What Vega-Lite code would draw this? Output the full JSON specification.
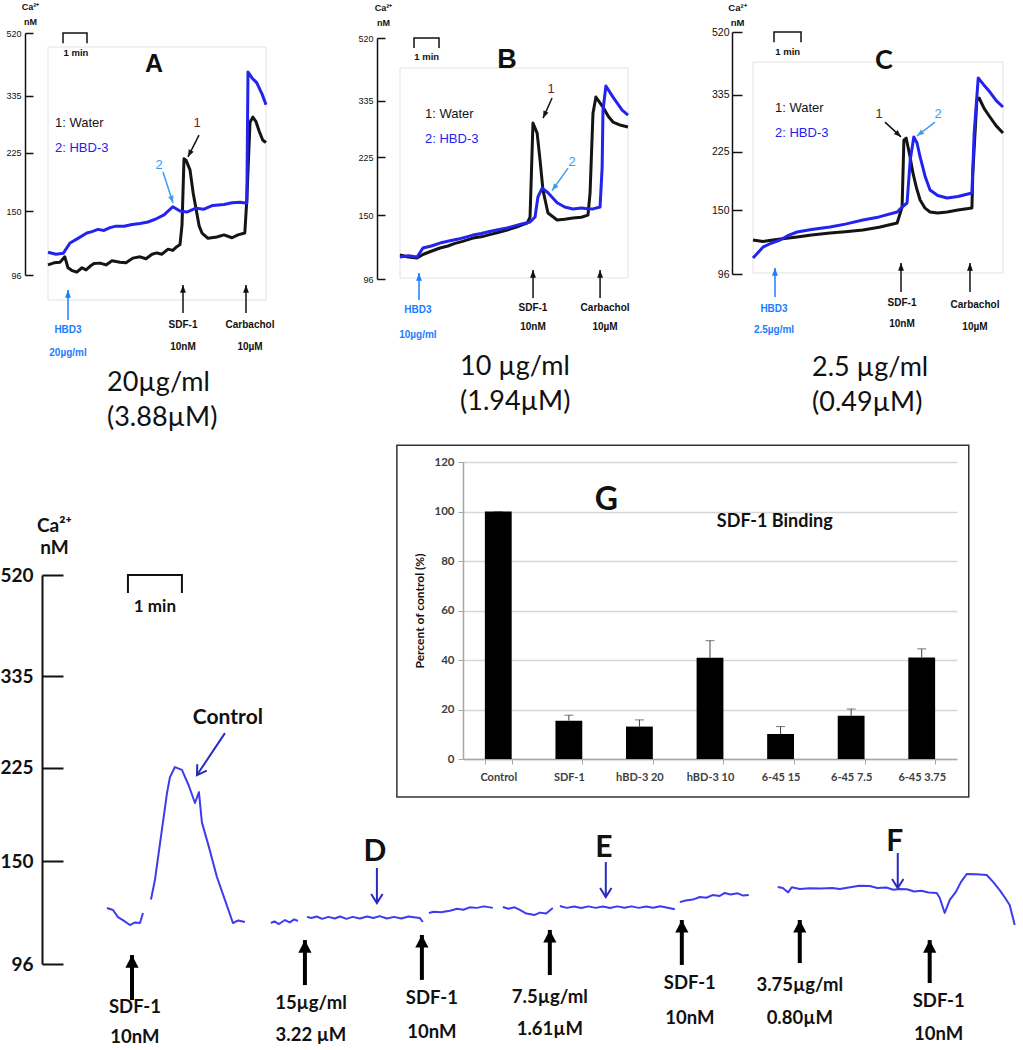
{
"$schema":"https://vega.github.io/schema/vega-lite/v6.json",
"width":1023,"height":1050,"autosize":{"type":"none"},"padding":0,"background":"white",
"config":{"view":{"stroke":null},"font":"Liberation Sans"},
"datasets":{
"traces":[
{"p":"A","k":"Water","g":"AW","t":0,"v":103},{"p":"A","k":"Water","g":"AW","t":15,"v":104.5},{"p":"A","k":"Water","g":"AW","t":30,"v":105},{"p":"A","k":"Water","g":"AW","t":42,"v":109},{"p":"A","k":"Water","g":"AW","t":50,"v":101},{"p":"A","k":"Water","g":"AW","t":60,"v":99},{"p":"A","k":"Water","g":"AW","t":72,"v":98},{"p":"A","k":"Water","g":"AW","t":85,"v":101},{"p":"A","k":"Water","g":"AW","t":95,"v":99.5},{"p":"A","k":"Water","g":"AW","t":105,"v":102},{"p":"A","k":"Water","g":"AW","t":115,"v":104},{"p":"A","k":"Water","g":"AW","t":130,"v":104.3},{"p":"A","k":"Water","g":"AW","t":145,"v":103},{"p":"A","k":"Water","g":"AW","t":160,"v":106},{"p":"A","k":"Water","g":"AW","t":180,"v":105},{"p":"A","k":"Water","g":"AW","t":195,"v":104.5},{"p":"A","k":"Water","g":"AW","t":212,"v":108},{"p":"A","k":"Water","g":"AW","t":230,"v":109},{"p":"A","k":"Water","g":"AW","t":245,"v":107.5},{"p":"A","k":"Water","g":"AW","t":260,"v":111},{"p":"A","k":"Water","g":"AW","t":272,"v":112},{"p":"A","k":"Water","g":"AW","t":285,"v":111},{"p":"A","k":"Water","g":"AW","t":300,"v":115},{"p":"A","k":"Water","g":"AW","t":312,"v":114},{"p":"A","k":"Water","g":"AW","t":322,"v":117},{"p":"A","k":"Water","g":"AW","t":330,"v":118.7},{"p":"A","k":"Water","g":"AW","t":335,"v":136},{"p":"A","k":"Water","g":"AW","t":340,"v":216},{"p":"A","k":"Water","g":"AW","t":345,"v":214},{"p":"A","k":"Water","g":"AW","t":355,"v":200},{"p":"A","k":"Water","g":"AW","t":363,"v":170},{"p":"A","k":"Water","g":"AW","t":372,"v":148},{"p":"A","k":"Water","g":"AW","t":378,"v":135},{"p":"A","k":"Water","g":"AW","t":385,"v":128.7},{"p":"A","k":"Water","g":"AW","t":400,"v":124},{"p":"A","k":"Water","g":"AW","t":422,"v":125.2},{"p":"A","k":"Water","g":"AW","t":440,"v":127},{"p":"A","k":"Water","g":"AW","t":460,"v":124.5},{"p":"A","k":"Water","g":"AW","t":475,"v":127},{"p":"A","k":"Water","g":"AW","t":492,"v":128.7},{"p":"A","k":"Water","g":"AW","t":497,"v":162},{"p":"A","k":"Water","g":"AW","t":505,"v":279},{"p":"A","k":"Water","g":"AW","t":512,"v":289},{"p":"A","k":"Water","g":"AW","t":520,"v":280},{"p":"A","k":"Water","g":"AW","t":528,"v":262},{"p":"A","k":"Water","g":"AW","t":537,"v":246},{"p":"A","k":"Water","g":"AW","t":545,"v":242},
{"p":"A","k":"HBD-3","g":"AH","t":0,"v":112.5},{"p":"A","k":"HBD-3","g":"AH","t":20,"v":111},{"p":"A","k":"HBD-3","g":"AH","t":38,"v":111.7},{"p":"A","k":"HBD-3","g":"AH","t":55,"v":120},{"p":"A","k":"HBD-3","g":"AH","t":75,"v":124},{"p":"A","k":"HBD-3","g":"AH","t":97,"v":128.7},{"p":"A","k":"HBD-3","g":"AH","t":110,"v":130},{"p":"A","k":"HBD-3","g":"AH","t":125,"v":132},{"p":"A","k":"HBD-3","g":"AH","t":140,"v":131},{"p":"A","k":"HBD-3","g":"AH","t":155,"v":133.6},{"p":"A","k":"HBD-3","g":"AH","t":170,"v":135},{"p":"A","k":"HBD-3","g":"AH","t":190,"v":135},{"p":"A","k":"HBD-3","g":"AH","t":210,"v":136.5},{"p":"A","k":"HBD-3","g":"AH","t":230,"v":137.5},{"p":"A","k":"HBD-3","g":"AH","t":250,"v":139},{"p":"A","k":"HBD-3","g":"AH","t":272,"v":142.4},{"p":"A","k":"HBD-3","g":"AH","t":290,"v":146},{"p":"A","k":"HBD-3","g":"AH","t":312,"v":154.6},{"p":"A","k":"HBD-3","g":"AH","t":330,"v":150},{"p":"A","k":"HBD-3","g":"AH","t":347,"v":149},{"p":"A","k":"HBD-3","g":"AH","t":370,"v":153},{"p":"A","k":"HBD-3","g":"AH","t":390,"v":152},{"p":"A","k":"HBD-3","g":"AH","t":412,"v":156},{"p":"A","k":"HBD-3","g":"AH","t":440,"v":157},{"p":"A","k":"HBD-3","g":"AH","t":460,"v":159},{"p":"A","k":"HBD-3","g":"AH","t":480,"v":159.5},{"p":"A","k":"HBD-3","g":"AH","t":497,"v":158.4},{"p":"A","k":"HBD-3","g":"AH","t":500,"v":396},{"p":"A","k":"HBD-3","g":"AH","t":510,"v":380},{"p":"A","k":"HBD-3","g":"AH","t":522,"v":367},{"p":"A","k":"HBD-3","g":"AH","t":535,"v":340},{"p":"A","k":"HBD-3","g":"AH","t":545,"v":315},
{"p":"B","k":"Water","g":"BW","t":0,"v":113.6},{"p":"B","k":"Water","g":"BW","t":20,"v":112},{"p":"B","k":"Water","g":"BW","t":41,"v":111.2},{"p":"B","k":"Water","g":"BW","t":55,"v":114},{"p":"B","k":"Water","g":"BW","t":70,"v":116},{"p":"B","k":"Water","g":"BW","t":96,"v":119.3},{"p":"B","k":"Water","g":"BW","t":115,"v":121},{"p":"B","k":"Water","g":"BW","t":130,"v":123},{"p":"B","k":"Water","g":"BW","t":150,"v":125},{"p":"B","k":"Water","g":"BW","t":175,"v":127.9},{"p":"B","k":"Water","g":"BW","t":195,"v":129},{"p":"B","k":"Water","g":"BW","t":215,"v":131},{"p":"B","k":"Water","g":"BW","t":235,"v":133},{"p":"B","k":"Water","g":"BW","t":257,"v":135.3},{"p":"B","k":"Water","g":"BW","t":285,"v":139},{"p":"B","k":"Water","g":"BW","t":305,"v":142.1},{"p":"B","k":"Water","g":"BW","t":312,"v":148.2},{"p":"B","k":"Water","g":"BW","t":319,"v":286.4},{"p":"B","k":"Water","g":"BW","t":329,"v":267},{"p":"B","k":"Water","g":"BW","t":336,"v":221},{"p":"B","k":"Water","g":"BW","t":343,"v":179},{"p":"B","k":"Water","g":"BW","t":355,"v":152.5},{"p":"B","k":"Water","g":"BW","t":377,"v":145.2},{"p":"B","k":"Water","g":"BW","t":395,"v":146},{"p":"B","k":"Water","g":"BW","t":415,"v":147.2},{"p":"B","k":"Water","g":"BW","t":435,"v":148},{"p":"B","k":"Water","g":"BW","t":451,"v":150.3},{"p":"B","k":"Water","g":"BW","t":456,"v":175.7},{"p":"B","k":"Water","g":"BW","t":463,"v":307},{"p":"B","k":"Water","g":"BW","t":470,"v":343.7},{"p":"B","k":"Water","g":"BW","t":487,"v":320.3},{"p":"B","k":"Water","g":"BW","t":500,"v":300},{"p":"B","k":"Water","g":"BW","t":511,"v":288.5},{"p":"B","k":"Water","g":"BW","t":530,"v":282},{"p":"B","k":"Water","g":"BW","t":547,"v":278.5},
{"p":"B","k":"HBD-3","g":"BH","t":0,"v":112},{"p":"B","k":"HBD-3","g":"BH","t":20,"v":113},{"p":"B","k":"HBD-3","g":"BH","t":41,"v":112},{"p":"B","k":"HBD-3","g":"BH","t":55,"v":119.3},{"p":"B","k":"HBD-3","g":"BH","t":75,"v":121},{"p":"B","k":"HBD-3","g":"BH","t":96,"v":123.5},{"p":"B","k":"HBD-3","g":"BH","t":120,"v":125.5},{"p":"B","k":"HBD-3","g":"BH","t":140,"v":127},{"p":"B","k":"HBD-3","g":"BH","t":160,"v":129},{"p":"B","k":"HBD-3","g":"BH","t":175,"v":130.6},{"p":"B","k":"HBD-3","g":"BH","t":195,"v":132},{"p":"B","k":"HBD-3","g":"BH","t":215,"v":134},{"p":"B","k":"HBD-3","g":"BH","t":235,"v":135.5},{"p":"B","k":"HBD-3","g":"BH","t":257,"v":137.2},{"p":"B","k":"HBD-3","g":"BH","t":290,"v":141},{"p":"B","k":"HBD-3","g":"BH","t":312,"v":143.1},{"p":"B","k":"HBD-3","g":"BH","t":324,"v":148.2},{"p":"B","k":"HBD-3","g":"BH","t":331,"v":170.8},{"p":"B","k":"HBD-3","g":"BH","t":341,"v":181.5},{"p":"B","k":"HBD-3","g":"BH","t":355,"v":175.7},{"p":"B","k":"HBD-3","g":"BH","t":377,"v":163.8},{"p":"B","k":"HBD-3","g":"BH","t":395,"v":159},{"p":"B","k":"HBD-3","g":"BH","t":415,"v":156.9},{"p":"B","k":"HBD-3","g":"BH","t":435,"v":158},{"p":"B","k":"HBD-3","g":"BH","t":450,"v":157},{"p":"B","k":"HBD-3","g":"BH","t":463,"v":156.9},{"p":"B","k":"HBD-3","g":"BH","t":480,"v":159.1},{"p":"B","k":"HBD-3","g":"BH","t":485,"v":210.3},{"p":"B","k":"HBD-3","g":"BH","t":487,"v":313.7},{"p":"B","k":"HBD-3","g":"BH","t":494,"v":371.3},{"p":"B","k":"HBD-3","g":"BH","t":511,"v":343.7},{"p":"B","k":"HBD-3","g":"BH","t":533,"v":313.7},{"p":"B","k":"HBD-3","g":"BH","t":547,"v":303},
{"p":"C","k":"Water","g":"CW","t":0,"v":121.7},{"p":"C","k":"Water","g":"CW","t":22,"v":120.5},{"p":"C","k":"Water","g":"CW","t":44,"v":121.7},{"p":"C","k":"Water","g":"CW","t":70,"v":123},{"p":"C","k":"Water","g":"CW","t":98,"v":124.3},{"p":"C","k":"Water","g":"CW","t":130,"v":126},{"p":"C","k":"Water","g":"CW","t":171,"v":127.8},{"p":"C","k":"Water","g":"CW","t":205,"v":129},{"p":"C","k":"Water","g":"CW","t":244,"v":130.5},{"p":"C","k":"Water","g":"CW","t":280,"v":133},{"p":"C","k":"Water","g":"CW","t":320,"v":137},{"p":"C","k":"Water","g":"CW","t":331,"v":153.3},{"p":"C","k":"Water","g":"CW","t":335,"v":244.6},{"p":"C","k":"Water","g":"CW","t":340,"v":248},{"p":"C","k":"Water","g":"CW","t":348,"v":220},{"p":"C","k":"Water","g":"CW","t":355,"v":194.4},{"p":"C","k":"Water","g":"CW","t":363,"v":175},{"p":"C","k":"Water","g":"CW","t":371,"v":160.9},{"p":"C","k":"Water","g":"CW","t":382,"v":152},{"p":"C","k":"Water","g":"CW","t":393,"v":148},{"p":"C","k":"Water","g":"CW","t":410,"v":147},{"p":"C","k":"Water","g":"CW","t":431,"v":148},{"p":"C","k":"Water","g":"CW","t":455,"v":150},{"p":"C","k":"Water","g":"CW","t":486,"v":152.2},{"p":"C","k":"Water","g":"CW","t":488,"v":194.4},{"p":"C","k":"Water","g":"CW","t":497,"v":323.4},{"p":"C","k":"Water","g":"CW","t":502,"v":328},{"p":"C","k":"Water","g":"CW","t":513,"v":305},{"p":"C","k":"Water","g":"CW","t":526,"v":287.3},{"p":"C","k":"Water","g":"CW","t":540,"v":270},{"p":"C","k":"Water","g":"CW","t":555,"v":256.9},
{"p":"C","k":"HBD-3","g":"CH","t":0,"v":107.3},{"p":"C","k":"HBD-3","g":"CH","t":22,"v":115.8},{"p":"C","k":"HBD-3","g":"CH","t":40,"v":119},{"p":"C","k":"HBD-3","g":"CH","t":60,"v":121.7},{"p":"C","k":"HBD-3","g":"CH","t":80,"v":126},{"p":"C","k":"HBD-3","g":"CH","t":98,"v":128.7},{"p":"C","k":"HBD-3","g":"CH","t":130,"v":131},{"p":"C","k":"HBD-3","g":"CH","t":171,"v":133.3},{"p":"C","k":"HBD-3","g":"CH","t":205,"v":136},{"p":"C","k":"HBD-3","g":"CH","t":244,"v":139.9},{"p":"C","k":"HBD-3","g":"CH","t":280,"v":143},{"p":"C","k":"HBD-3","g":"CH","t":320,"v":148},{"p":"C","k":"HBD-3","g":"CH","t":331,"v":153.3},{"p":"C","k":"HBD-3","g":"CH","t":342,"v":157.6},{"p":"C","k":"HBD-3","g":"CH","t":349,"v":212.7},{"p":"C","k":"HBD-3","g":"CH","t":357,"v":249.8},{"p":"C","k":"HBD-3","g":"CH","t":364,"v":240},{"p":"C","k":"HBD-3","g":"CH","t":371,"v":217.3},{"p":"C","k":"HBD-3","g":"CH","t":382,"v":190},{"p":"C","k":"HBD-3","g":"CH","t":393,"v":172.5},{"p":"C","k":"HBD-3","g":"CH","t":410,"v":166},{"p":"C","k":"HBD-3","g":"CH","t":431,"v":163.2},{"p":"C","k":"HBD-3","g":"CH","t":455,"v":165},{"p":"C","k":"HBD-3","g":"CH","t":486,"v":169},{"p":"C","k":"HBD-3","g":"CH","t":491,"v":256.9},{"p":"C","k":"HBD-3","g":"CH","t":500,"v":377},{"p":"C","k":"HBD-3","g":"CH","t":512,"v":360},{"p":"C","k":"HBD-3","g":"CH","t":526,"v":342},{"p":"C","k":"HBD-3","g":"CH","t":540,"v":322},{"p":"C","k":"HBD-3","g":"CH","t":555,"v":308},
{"p":"Bot","k":"recording","g":"C1","t":118.9,"v":122.4},{"p":"Bot","k":"recording","g":"C1","t":125.6,"v":121.4},{"p":"Bot","k":"recording","g":"C1","t":131.1,"v":117.7},{"p":"Bot","k":"recording","g":"C1","t":137,"v":116},{"p":"Bot","k":"recording","g":"C1","t":144.4,"v":113.7},{"p":"Bot","k":"recording","g":"C1","t":150,"v":115},{"p":"Bot","k":"recording","g":"C1","t":155.6,"v":114.7},{"p":"Bot","k":"recording","g":"C1","t":158.9,"v":119.8},
{"p":"Bot","k":"recording","g":"C2","t":167.8,"v":127},{"p":"Bot","k":"recording","g":"C2","t":172.2,"v":138.3},{"p":"Bot","k":"recording","g":"C2","t":185.6,"v":201.6},{"p":"Bot","k":"recording","g":"C2","t":188.9,"v":216.2},{"p":"Bot","k":"recording","g":"C2","t":194.4,"v":225.8},{"p":"Bot","k":"recording","g":"C2","t":202.2,"v":223},{"p":"Bot","k":"recording","g":"C2","t":210,"v":208},{"p":"Bot","k":"recording","g":"C2","t":216.7,"v":193.2},{"p":"Bot","k":"recording","g":"C2","t":221.1,"v":202.5},{"p":"Bot","k":"recording","g":"C2","t":224.4,"v":177.6},{"p":"Bot","k":"recording","g":"C2","t":232,"v":160},{"p":"Bot","k":"recording","g":"C2","t":241.1,"v":140.1},{"p":"Bot","k":"recording","g":"C2","t":250,"v":126.8},{"p":"Bot","k":"recording","g":"C2","t":258.9,"v":114.7},{"p":"Bot","k":"recording","g":"C2","t":265,"v":116},{"p":"Bot","k":"recording","g":"C2","t":272.2,"v":115.2},
{"p":"Bot","k":"recording","g":"D1","t":301.1,"v":114.7},{"p":"Bot","k":"recording","g":"D1","t":305,"v":115.5},{"p":"Bot","k":"recording","g":"D1","t":310,"v":114.2},{"p":"Bot","k":"recording","g":"D1","t":316.7,"v":116.2},{"p":"Bot","k":"recording","g":"D1","t":322,"v":115},{"p":"Bot","k":"recording","g":"D1","t":327,"v":116.5},{"p":"Bot","k":"recording","g":"D1","t":331.1,"v":115.7},
{"p":"Bot","k":"recording","g":"D2","t":341.1,"v":117.8},{"p":"Bot","k":"recording","g":"D2","t":346,"v":117.2},{"p":"Bot","k":"recording","g":"D2","t":352,"v":118},{"p":"Bot","k":"recording","g":"D2","t":358,"v":116.8},{"p":"Bot","k":"recording","g":"D2","t":365,"v":117.8},{"p":"Bot","k":"recording","g":"D2","t":372,"v":117},{"p":"Bot","k":"recording","g":"D2","t":378,"v":118},{"p":"Bot","k":"recording","g":"D2","t":385,"v":116.8},{"p":"Bot","k":"recording","g":"D2","t":392,"v":117.8},{"p":"Bot","k":"recording","g":"D2","t":400,"v":117},{"p":"Bot","k":"recording","g":"D2","t":408,"v":118},{"p":"Bot","k":"recording","g":"D2","t":415,"v":117.2},{"p":"Bot","k":"recording","g":"D2","t":422,"v":118.2},{"p":"Bot","k":"recording","g":"D2","t":430,"v":117},{"p":"Bot","k":"recording","g":"D2","t":438,"v":117.8},{"p":"Bot","k":"recording","g":"D2","t":446,"v":117},{"p":"Bot","k":"recording","g":"D2","t":454,"v":118},{"p":"Bot","k":"recording","g":"D2","t":462,"v":117.5},{"p":"Bot","k":"recording","g":"D2","t":466.7,"v":117.2},{"p":"Bot","k":"recording","g":"D2","t":470,"v":115.2},
{"p":"Bot","k":"recording","g":"D3","t":476.7,"v":119.8},{"p":"Bot","k":"recording","g":"D3","t":482,"v":120.5},{"p":"Bot","k":"recording","g":"D3","t":490,"v":120.2},{"p":"Bot","k":"recording","g":"D3","t":500,"v":121},{"p":"Bot","k":"recording","g":"D3","t":508,"v":122},{"p":"Bot","k":"recording","g":"D3","t":515,"v":121.5},{"p":"Bot","k":"recording","g":"D3","t":522,"v":122.8},{"p":"Bot","k":"recording","g":"D3","t":530,"v":122.5},{"p":"Bot","k":"recording","g":"D3","t":538,"v":123.3},{"p":"Bot","k":"recording","g":"D3","t":547.8,"v":122.5},
{"p":"Bot","k":"recording","g":"E1","t":558.9,"v":123},{"p":"Bot","k":"recording","g":"E1","t":565,"v":122},{"p":"Bot","k":"recording","g":"E1","t":572,"v":122.8},{"p":"Bot","k":"recording","g":"E1","t":577.8,"v":121.4},{"p":"Bot","k":"recording","g":"E1","t":585,"v":119.5},{"p":"Bot","k":"recording","g":"E1","t":594.4,"v":118.8},{"p":"Bot","k":"recording","g":"E1","t":600,"v":120},{"p":"Bot","k":"recording","g":"E1","t":607,"v":119.5},{"p":"Bot","k":"recording","g":"E1","t":614.4,"v":122.4},
{"p":"Bot","k":"recording","g":"E2","t":622.2,"v":123.5},{"p":"Bot","k":"recording","g":"E2","t":630,"v":122.5},{"p":"Bot","k":"recording","g":"E2","t":638,"v":123.2},{"p":"Bot","k":"recording","g":"E2","t":646,"v":122.4},{"p":"Bot","k":"recording","g":"E2","t":654,"v":123.3},{"p":"Bot","k":"recording","g":"E2","t":662,"v":122.5},{"p":"Bot","k":"recording","g":"E2","t":670,"v":123.2},{"p":"Bot","k":"recording","g":"E2","t":678,"v":122.4},{"p":"Bot","k":"recording","g":"E2","t":686,"v":123.3},{"p":"Bot","k":"recording","g":"E2","t":694,"v":122.6},{"p":"Bot","k":"recording","g":"E2","t":702,"v":123.3},{"p":"Bot","k":"recording","g":"E2","t":710,"v":122.5},{"p":"Bot","k":"recording","g":"E2","t":718,"v":123.2},{"p":"Bot","k":"recording","g":"E2","t":726,"v":122.6},{"p":"Bot","k":"recording","g":"E2","t":734,"v":123.4},{"p":"Bot","k":"recording","g":"E2","t":742,"v":122.6},{"p":"Bot","k":"recording","g":"E2","t":750,"v":121.8},
{"p":"Bot","k":"recording","g":"E3","t":755.6,"v":125.6},{"p":"Bot","k":"recording","g":"E3","t":762,"v":126.5},{"p":"Bot","k":"recording","g":"E3","t":770,"v":127},{"p":"Bot","k":"recording","g":"E3","t":777.8,"v":128.4},{"p":"Bot","k":"recording","g":"E3","t":785,"v":128},{"p":"Bot","k":"recording","g":"E3","t":792,"v":129.5},{"p":"Bot","k":"recording","g":"E3","t":800,"v":129},{"p":"Bot","k":"recording","g":"E3","t":805.6,"v":130.7},{"p":"Bot","k":"recording","g":"E3","t":812,"v":129.8},{"p":"Bot","k":"recording","g":"E3","t":820,"v":130.5},{"p":"Bot","k":"recording","g":"E3","t":826,"v":129.2},{"p":"Bot","k":"recording","g":"E3","t":832.2,"v":129.5},
{"p":"Bot","k":"recording","g":"F","t":864.4,"v":134.1},{"p":"Bot","k":"recording","g":"F","t":870,"v":133.5},{"p":"Bot","k":"recording","g":"F","t":876,"v":131},{"p":"Bot","k":"recording","g":"F","t":880,"v":134},{"p":"Bot","k":"recording","g":"F","t":888.9,"v":133},{"p":"Bot","k":"recording","g":"F","t":900,"v":133.4},{"p":"Bot","k":"recording","g":"F","t":912,"v":133.2},{"p":"Bot","k":"recording","g":"F","t":925,"v":133.5},{"p":"Bot","k":"recording","g":"F","t":933.3,"v":133},{"p":"Bot","k":"recording","g":"F","t":945,"v":134},{"p":"Bot","k":"recording","g":"F","t":955,"v":134.8},{"p":"Bot","k":"recording","g":"F","t":966.7,"v":134.7},{"p":"Bot","k":"recording","g":"F","t":975,"v":133.5},{"p":"Bot","k":"recording","g":"F","t":985,"v":133.8},{"p":"Bot","k":"recording","g":"F","t":993,"v":132.5},{"p":"Bot","k":"recording","g":"F","t":1000,"v":133},{"p":"Bot","k":"recording","g":"F","t":1008,"v":132.8},{"p":"Bot","k":"recording","g":"F","t":1016,"v":131.5},{"p":"Bot","k":"recording","g":"F","t":1024,"v":132},{"p":"Bot","k":"recording","g":"F","t":1032,"v":131},{"p":"Bot","k":"recording","g":"F","t":1041.1,"v":130.7},{"p":"Bot","k":"recording","g":"F","t":1044.4,"v":128},{"p":"Bot","k":"recording","g":"F","t":1050,"v":119.8},{"p":"Bot","k":"recording","g":"F","t":1055.6,"v":126.8},{"p":"Bot","k":"recording","g":"F","t":1062,"v":131},{"p":"Bot","k":"recording","g":"F","t":1068,"v":137},{"p":"Bot","k":"recording","g":"F","t":1074.4,"v":141.9},{"p":"Bot","k":"recording","g":"F","t":1085,"v":141.8},{"p":"Bot","k":"recording","g":"F","t":1096.7,"v":141.3},{"p":"Bot","k":"recording","g":"F","t":1104,"v":137},{"p":"Bot","k":"recording","g":"F","t":1111.1,"v":132.3},{"p":"Bot","k":"recording","g":"F","t":1117,"v":128},{"p":"Bot","k":"recording","g":"F","t":1122.2,"v":124},{"p":"Bot","k":"recording","g":"F","t":1127.8,"v":113.7}
],
"frames":[
{"p":"A","k":"frame","t":0,"t2":545,"v":80.6,"v2":471.6},
{"p":"B","k":"frame","t":0,"t2":547,"v":96.7,"v2":421.3},
{"p":"C","k":"frame","t":0,"t2":555,"v":96.7,"v2":421.6},
{"p":"Bot","k":"box","t":441.1,"t2":1076.7,"v":198.2,"v2":914}
],
"brackets":[
{"p":"A","k":"scale","o":0,"t":37.5,"v":484.5},{"p":"A","k":"scale","o":1,"t":37.5,"v":520},{"p":"A","k":"scale","o":2,"t":97.5,"v":520},{"p":"A","k":"scale","o":3,"t":97.5,"v":484.5},
{"p":"B","k":"scale","o":0,"t":33.6,"v":484.4},{"p":"B","k":"scale","o":1,"t":33.6,"v":520},{"p":"B","k":"scale","o":2,"t":93.6,"v":520},{"p":"B","k":"scale","o":3,"t":93.6,"v":484.4},
{"p":"C","k":"scale","o":0,"t":46.6,"v":484.5},{"p":"C","k":"scale","o":1,"t":46.6,"v":520},{"p":"C","k":"scale","o":2,"t":106.6,"v":520},{"p":"C","k":"scale","o":3,"t":106.6,"v":484.5},
{"p":"Bot","k":"scale","o":0,"t":142.2,"v":481},{"p":"Bot","k":"scale","o":1,"t":142.2,"v":520},{"p":"Bot","k":"scale","o":2,"t":202.2,"v":520},{"p":"Bot","k":"scale","o":3,"t":202.2,"v":481}
],
"arrows":[
{"p":"A","id":"up","k":"HBD3 added","t":50,"v":86.5,"t2":50,"v2":70.1},
{"p":"A","id":"up","k":"agonist","t":337.5,"v":89.5,"t2":337.5,"v2":73.6},
{"p":"A","id":"up","k":"agonist","t":495,"v":89.5,"t2":495,"v2":73.6},
{"p":"A","id":"p1","k":"Water","t":350,"v":218.9,"t2":377.5,"v2":255},
{"p":"A","id":"p2","k":"pointer 2","t":312.5,"v":158.7,"t2":287.5,"v2":197},
{"p":"B","id":"up","k":"HBD3 added","t":45.6,"v":100.1,"t2":45.6,"v2":82.9},
{"p":"B","id":"up","k":"agonist","t":319.2,"v":102.2,"t2":319.2,"v2":84},
{"p":"B","id":"up","k":"agonist","t":480,"v":102.2,"t2":480,"v2":84},
{"p":"B","id":"p1","k":"Water","t":343.2,"v":296.6,"t2":364.8,"v2":341.3},
{"p":"B","id":"p2","k":"pointer 2","t":364.8,"v":178.4,"t2":403.2,"v2":208.9},
{"p":"C","id":"up","k":"HBD3 added","t":48.8,"v":100.1,"t2":48.8,"v2":81.8},
{"p":"C","id":"up","k":"agonist","t":328.6,"v":103.7,"t2":328.6,"v2":84.7},
{"p":"C","id":"up","k":"agonist","t":481.7,"v":103.7,"t2":481.7,"v2":84.7},
{"p":"C","id":"p1","k":"Water","t":328.6,"v":250,"t2":293,"v2":277.2},
{"p":"C","id":"p2","k":"pointer 2","t":364,"v":251.6,"t2":404,"v2":277.2},
{"p":"Bot","id":"up","k":"stimulus","t":146.7,"v":99.8,"t2":146.7,"v2":82.1},
{"p":"Bot","id":"up","k":"stimulus","t":338.9,"v":106.5,"t2":338.9,"v2":87.6},
{"p":"Bot","id":"up","k":"stimulus","t":468.9,"v":108.9,"t2":468.9,"v2":89.6},
{"p":"Bot","id":"up","k":"stimulus","t":611.1,"v":111.3,"t2":611.1,"v2":91.5},
{"p":"Bot","id":"up","k":"stimulus","t":757.8,"v":116.2,"t2":757.8,"v2":95.6},
{"p":"Bot","id":"up","k":"stimulus","t":888.9,"v":116.2,"t2":888.9,"v2":96.4},
{"p":"Bot","id":"up","k":"stimulus","t":1033.3,"v":106.5,"t2":1033.3,"v2":88.4},
{"p":"Bot","id":"dn","k":"marker","t":418.9,"v":125.1,"t2":418.9,"v2":145.7},
{"p":"Bot","id":"dn","k":"marker","t":673.3,"v":128.4,"t2":673.3,"v2":149.5},
{"p":"Bot","id":"dn","k":"marker","t":997.8,"v":133.5,"t2":997.8,"v2":155.5},
{"p":"Bot","id":"ctrl","k":"marker","t":218.9,"v":218.1,"t2":250,"v2":261.7}
],
"labels":[
{"p":"A","r":"letter","k":"note","t":265,"v":418.6,"text":"A"},
{"p":"A","r":"min","k":"note","t":70,"v":452,"text":"1 min"},
{"p":"A","r":"legend","k":"Water","t":17.5,"v":277.2,"text":"1: Water"},
{"p":"A","r":"legend","k":"HBD-3","t":17.5,"v":233,"text":"2: HBD-3"},
{"p":"A","r":"num","k":"pointer 1","t":372.5,"v":277.2,"text":"1"},
{"p":"A","r":"num","k":"pointer 2","t":277.5,"v":206.9,"text":"2"},
{"p":"A","r":"stim","k":"HBD3 added","t":50,"v":65.4,"text":"HBD3"},
{"p":"A","r":"stim","k":"HBD3 added","t":50,"v":55.7,"text":"20µg/ml"},
{"p":"A","r":"stim","k":"agonist","t":337.5,"v":67.7,"text":"SDF-1"},
{"p":"A","r":"stim","k":"agonist","t":337.5,"v":58.1,"text":"10nM"},
{"p":"A","r":"stim","k":"agonist","t":505,"v":67.7,"text":"Carbachol"},
{"p":"A","r":"stim","k":"agonist","t":505,"v":58.1,"text":"10µM"},
{"p":"A","r":"cap","k":"note","t":147.5,"v":45.2,"text":"20µg/ml"},
{"p":"A","r":"cap","k":"note","t":147.5,"v":35.4,"text":"(3.88µM)"},
{"p":"B","r":"letter","k":"note","t":256.8,"v":445,"text":"B"},
{"p":"B","r":"min","k":"note","t":64,"v":455,"text":"1 min"},
{"p":"B","r":"legend","k":"Water","t":60,"v":305,"text":"1: Water"},
{"p":"B","r":"legend","k":"HBD-3","t":60,"v":256,"text":"2: HBD-3"},
{"p":"B","r":"num","k":"pointer 1","t":362.4,"v":363.5,"text":"1"},
{"p":"B","r":"num","k":"pointer 2","t":412.8,"v":218,"text":"2"},
{"p":"B","r":"stim","k":"HBD3 added","t":43,"v":77.3,"text":"HBD3"},
{"p":"B","r":"stim","k":"HBD3 added","t":43,"v":64.9,"text":"10µg/ml"},
{"p":"B","r":"stim","k":"agonist","t":319,"v":78.3,"text":"SDF-1"},
{"p":"B","r":"stim","k":"agonist","t":319,"v":68.6,"text":"10nM"},
{"p":"B","r":"stim","k":"agonist","t":492,"v":78.3,"text":"Carbachol"},
{"p":"B","r":"stim","k":"agonist","t":492,"v":68.6,"text":"10µM"},
{"p":"B","r":"cap","k":"note","t":144,"v":51.8,"text":"10 µg/ml"},
{"p":"B","r":"cap","k":"note","t":144,"v":40.5,"text":"(1.94µM)"},
{"p":"C","r":"letter","k":"note","t":290.8,"v":424.6,"text":"C"},
{"p":"C","r":"min","k":"note","t":77,"v":452,"text":"1 min"},
{"p":"C","r":"legend","k":"Water","t":48.8,"v":305.8,"text":"1: Water"},
{"p":"C","r":"legend","k":"HBD-3","t":48.8,"v":256.8,"text":"2: HBD-3"},
{"p":"C","r":"num","k":"pointer 1","t":279.7,"v":293.3,"text":"1"},
{"p":"C","r":"num","k":"pointer 2","t":410.7,"v":293.3,"text":"2"},
{"p":"C","r":"stim","k":"HBD3 added","t":46.6,"v":75.2,"text":"HBD3"},
{"p":"C","r":"stim","k":"HBD3 added","t":46.6,"v":64.9,"text":"2.5µg/ml"},
{"p":"C","r":"stim","k":"agonist","t":330.8,"v":78.4,"text":"SDF-1"},
{"p":"C","r":"stim","k":"agonist","t":330.8,"v":67.7,"text":"10nM"},
{"p":"C","r":"stim","k":"agonist","t":492.8,"v":77.3,"text":"Carbachol"},
{"p":"C","r":"stim","k":"agonist","t":492.8,"v":66.3,"text":"10µM"},
{"p":"C","r":"cap","k":"note","t":131,"v":49.8,"text":"2.5 µg/ml"},
{"p":"C","r":"cap","k":"note","t":131,"v":39,"text":"(0.49µM)"},
{"p":"Bot","r":"letter","k":"note","t":416.7,"v":156.1,"text":"D"},
{"p":"Bot","r":"letter","k":"note","t":671.1,"v":158.9,"text":"E"},
{"p":"Bot","r":"letter","k":"note","t":994.4,"v":163.1,"text":"F"},
{"p":"Bot","r":"min","k":"note","t":172.2,"v":452,"text":"1 min"},
{"p":"Bot","r":"ctrl","k":"note","t":253.3,"v":279.3,"text":"Control"},
{"p":"Bot","r":"stim","k":"note","t":150,"v":79.6,"text":"SDF-1"},
{"p":"Bot","r":"stim","k":"note","t":150,"v":69.8,"text":"10nM"},
{"p":"Bot","r":"stim","k":"note","t":345.6,"v":81,"text":"15µg/ml"},
{"p":"Bot","r":"stim","k":"note","t":345.6,"v":70.5,"text":"3.22 µM"},
{"p":"Bot","r":"stim","k":"note","t":480,"v":82.8,"text":"SDF-1"},
{"p":"Bot","r":"stim","k":"note","t":480,"v":71.4,"text":"10nM"},
{"p":"Bot","r":"stim","k":"note","t":611.1,"v":83.2,"text":"7.5µg/ml"},
{"p":"Bot","r":"stim","k":"note","t":611.1,"v":72.4,"text":"1.61µM"},
{"p":"Bot","r":"stim","k":"note","t":766.7,"v":88.4,"text":"SDF-1"},
{"p":"Bot","r":"stim","k":"note","t":766.7,"v":75.9,"text":"10nM"},
{"p":"Bot","r":"stim","k":"note","t":888.9,"v":87.6,"text":"3.75µg/ml"},
{"p":"Bot","r":"stim","k":"note","t":888.9,"v":75.9,"text":"0.80µM"},
{"p":"Bot","r":"stim","k":"note","t":1043.3,"v":81.6,"text":"SDF-1"},
{"p":"Bot","r":"stim","k":"note","t":1043.3,"v":70.8,"text":"10nM"},
{"p":"Bot","r":"gtitle","k":"note","t":673.9,"v":719.9,"text":"G"},
{"p":"Bot","r":"gsub","k":"note","t":796.7,"v":654.3,"text":"SDF-1 Binding"}
],
"gbars":[
{"group":"Control","pct":100,"upper":100},
{"group":"SDF-1","pct":15.5,"upper":17.7},
{"group":"hBD-3 20","pct":13.1,"upper":15.8},
{"group":"hBD-3 10","pct":40.9,"upper":47.8},
{"group":"6-45 15","pct":10.1,"upper":13.1},
{"group":"6-45 7.5","pct":17.5,"upper":20.2},
{"group":"6-45 3.75","pct":41,"upper":44.5}
]
},
"layer":[
{
"encoding":{
"x":{"field":"t","type":"quantitative","scale":{"domain":[0,545],"range":[48,266],"nice":false,"zero":false},"axis":null},
"y":{"field":"v","type":"quantitative","scale":{"type":"log","domain":[96,520],"range":[275,33],"nice":false},"axis":{"orient":"left","offset":-25,"values":[96,150,225,335,520],"format":"d","labelOverlap":false,"labelFlush":false,"grid":false,"domainColor":"#111","domainWidth":1.5,"tickColor":"#111","tickWidth":1.5,"tickSize":-8,"labelPadding":12,"labelFont":"Liberation Sans","labelFontSize":9,"labelColor":"#111","title":["Ca²⁺","nM"],"titleAngle":0,"titleAlign":"center","titleBaseline":"top","titleX":5,"titleY":2,"titleFont":"Liberation Sans","titleFontSize":9,"titleFontWeight":"bold","titleLineHeight":15,"titleColor":"#111"}},
"color":{"field":"k","type":"nominal","scale":{"domain":["Water","HBD-3","HBD3 added","agonist","pointer 1","pointer 2","frame","scale","note"],"range":["#141414","#2323ef","#1c7dff","#111111","#5a2a2a","#3c9cf2","#e2e2e2","#111111","#111111"]},"legend":null}
},
"layer":[
{"data":{"name":"frames"},"transform":[{"filter":"datum.p==='A'"}],"mark":{"type":"rect","filled":false,"strokeWidth":1},"encoding":{"x2":{"field":"t2"},"y2":{"field":"v2"}}},
{"data":{"name":"traces"},"transform":[{"filter":"datum.p==='A'"}],"mark":{"type":"line","strokeWidth":3,"strokeJoin":"round"},"encoding":{"detail":{"field":"g","type":"nominal"}}},
{"data":{"name":"brackets"},"transform":[{"filter":"datum.p==='A'"}],"mark":{"type":"line","strokeWidth":1.5},"encoding":{"order":{"field":"o","type":"quantitative"}}},
{"data":{"name":"arrows"},"transform":[{"filter":"datum.p==='A'"}],"mark":{"type":"rule","strokeWidth":1.5},"encoding":{"x2":{"field":"t2"},"y2":{"field":"v2"}}},
{"data":{"name":"arrows"},"transform":[{"filter":"datum.p==='A' && datum.id==='up'"}],"mark":{"type":"point","shape":"M0,0L-0.42,1.1L0.42,1.1Z","filled":true,"size":196,"opacity":1,"strokeWidth":0}},
{"data":{"name":"arrows"},"transform":[{"filter":"datum.p==='A' && datum.id==='p1'"}],"mark":{"type":"point","shape":"M0,0L-0.42,1.1L0.42,1.1Z","filled":true,"size":170,"opacity":1,"strokeWidth":0,"angle":206.6}},
{"data":{"name":"arrows"},"transform":[{"filter":"datum.p==='A' && datum.id==='p2'"}],"mark":{"type":"point","shape":"M0,0L-0.42,1.1L0.42,1.1Z","filled":true,"size":170,"opacity":1,"strokeWidth":0,"angle":162}},
{"data":{"name":"labels"},"transform":[{"filter":"datum.p==='A' && datum.r==='letter'"}],"mark":{"type":"text","font":"Liberation Sans","fontSize":25,"fontWeight":"bold"},"encoding":{"text":{"field":"text","type":"nominal"}}},
{"data":{"name":"labels"},"transform":[{"filter":"datum.p==='A' && datum.r==='min'"}],"mark":{"type":"text","font":"Liberation Sans","fontSize":9.5,"fontWeight":"bold"},"encoding":{"text":{"field":"text","type":"nominal"}}},
{"data":{"name":"labels"},"transform":[{"filter":"datum.p==='A' && datum.r==='legend'"}],"mark":{"type":"text","font":"Liberation Sans Narrow, Liberation Sans","fontSize":13,"align":"left"},"encoding":{"text":{"field":"text","type":"nominal"}}},
{"data":{"name":"labels"},"transform":[{"filter":"datum.p==='A' && datum.r==='num'"}],"mark":{"type":"text","font":"Liberation Sans","fontSize":13},"encoding":{"text":{"field":"text","type":"nominal"}}},
{"data":{"name":"labels"},"transform":[{"filter":"datum.p==='A' && datum.r==='stim'"}],"mark":{"type":"text","font":"Liberation Sans Narrow, Liberation Sans","fontSize":10,"fontWeight":"bold"},"encoding":{"text":{"field":"text","type":"nominal"}}},
{"data":{"name":"labels"},"transform":[{"filter":"datum.p==='A' && datum.r==='cap'"}],"mark":{"type":"text","font":"Lato","fontSize":27,"align":"left"},"encoding":{"text":{"field":"text","type":"nominal"}}}
]
},
{
"encoding":{
"x":{"field":"t","type":"quantitative","scale":{"domain":[0,547],"range":[400,628],"nice":false,"zero":false},"axis":null},
"y":{"field":"v","type":"quantitative","scale":{"type":"log","domain":[96,520],"range":[279,38],"nice":false},"axis":{"orient":"left","offset":-377,"values":[96,150,225,335,520],"format":"d","labelOverlap":false,"labelFlush":false,"grid":false,"domainColor":"#111","domainWidth":1.5,"tickColor":"#111","tickWidth":1.5,"tickSize":-8,"labelPadding":12,"labelFont":"Liberation Sans","labelFontSize":9,"labelColor":"#111","title":["Ca²⁺","nM"],"titleAngle":0,"titleAlign":"center","titleBaseline":"top","titleX":6,"titleY":3,"titleFont":"Liberation Sans","titleFontSize":9,"titleFontWeight":"bold","titleLineHeight":15,"titleColor":"#111"}},
"color":{"field":"k","type":"nominal","scale":{"domain":["Water","HBD-3","HBD3 added","agonist","pointer 1","pointer 2","frame","scale","note"],"range":["#141414","#2323ef","#1c7dff","#111111","#5a2a2a","#3c9cf2","#e2e2e2","#111111","#111111"]},"legend":null}
},
"layer":[
{"data":{"name":"frames"},"transform":[{"filter":"datum.p==='B'"}],"mark":{"type":"rect","filled":false,"strokeWidth":1},"encoding":{"x2":{"field":"t2"},"y2":{"field":"v2"}}},
{"data":{"name":"traces"},"transform":[{"filter":"datum.p==='B'"}],"mark":{"type":"line","strokeWidth":3,"strokeJoin":"round"},"encoding":{"detail":{"field":"g","type":"nominal"}}},
{"data":{"name":"brackets"},"transform":[{"filter":"datum.p==='B'"}],"mark":{"type":"line","strokeWidth":1.5},"encoding":{"order":{"field":"o","type":"quantitative"}}},
{"data":{"name":"arrows"},"transform":[{"filter":"datum.p==='B'"}],"mark":{"type":"rule","strokeWidth":1.5},"encoding":{"x2":{"field":"t2"},"y2":{"field":"v2"}}},
{"data":{"name":"arrows"},"transform":[{"filter":"datum.p==='B' && datum.id==='up'"}],"mark":{"type":"point","shape":"M0,0L-0.42,1.1L0.42,1.1Z","filled":true,"size":196,"opacity":1,"strokeWidth":0}},
{"data":{"name":"arrows"},"transform":[{"filter":"datum.p==='B' && datum.id==='p1'"}],"mark":{"type":"point","shape":"M0,0L-0.42,1.1L0.42,1.1Z","filled":true,"size":170,"opacity":1,"strokeWidth":0,"angle":204.2}},
{"data":{"name":"arrows"},"transform":[{"filter":"datum.p==='B' && datum.id==='p2'"}],"mark":{"type":"point","shape":"M0,0L-0.42,1.1L0.42,1.1Z","filled":true,"size":170,"opacity":1,"strokeWidth":0,"angle":216}},
{"data":{"name":"labels"},"transform":[{"filter":"datum.p==='B' && datum.r==='letter'"}],"mark":{"type":"text","font":"Liberation Sans","fontSize":27,"fontWeight":"bold"},"encoding":{"text":{"field":"text","type":"nominal"}}},
{"data":{"name":"labels"},"transform":[{"filter":"datum.p==='B' && datum.r==='min'"}],"mark":{"type":"text","font":"Liberation Sans","fontSize":9.5,"fontWeight":"bold"},"encoding":{"text":{"field":"text","type":"nominal"}}},
{"data":{"name":"labels"},"transform":[{"filter":"datum.p==='B' && datum.r==='legend'"}],"mark":{"type":"text","font":"Liberation Sans Narrow, Liberation Sans","fontSize":13,"align":"left"},"encoding":{"text":{"field":"text","type":"nominal"}}},
{"data":{"name":"labels"},"transform":[{"filter":"datum.p==='B' && datum.r==='num'"}],"mark":{"type":"text","font":"Liberation Sans","fontSize":13},"encoding":{"text":{"field":"text","type":"nominal"}}},
{"data":{"name":"labels"},"transform":[{"filter":"datum.p==='B' && datum.r==='stim'"}],"mark":{"type":"text","font":"Liberation Sans Narrow, Liberation Sans","fontSize":10,"fontWeight":"bold"},"encoding":{"text":{"field":"text","type":"nominal"}}},
{"data":{"name":"labels"},"transform":[{"filter":"datum.p==='B' && datum.r==='cap'"}],"mark":{"type":"text","font":"Lato","fontSize":27,"align":"left"},"encoding":{"text":{"field":"text","type":"nominal"}}}
]
},
{
"encoding":{
"x":{"field":"t","type":"quantitative","scale":{"domain":[0,555],"range":[753,1003],"nice":false,"zero":false},"axis":null},
"y":{"field":"v","type":"quantitative","scale":{"type":"log","domain":[96,520],"range":[274,32],"nice":false},"axis":{"orient":"left","offset":-732,"values":[96,150,225,335,520],"format":"d","labelOverlap":false,"labelFlush":false,"grid":false,"domainColor":"#111","domainWidth":1.5,"tickColor":"#111","tickWidth":1.5,"tickSize":-10,"labelPadding":13,"labelFont":"Liberation Sans","labelFontSize":10.5,"labelColor":"#111","title":["Ca²⁺","nM"],"titleAngle":0,"titleAlign":"center","titleBaseline":"top","titleX":5,"titleY":2,"titleFont":"Liberation Sans","titleFontSize":9.5,"titleFontWeight":"bold","titleLineHeight":15,"titleColor":"#111"}},
"color":{"field":"k","type":"nominal","scale":{"domain":["Water","HBD-3","HBD3 added","agonist","pointer 1","pointer 2","frame","scale","note"],"range":["#141414","#2323ef","#1c7dff","#111111","#5a2a2a","#3c9cf2","#e2e2e2","#111111","#111111"]},"legend":null}
},
"layer":[
{"data":{"name":"frames"},"transform":[{"filter":"datum.p==='C'"}],"mark":{"type":"rect","filled":false,"strokeWidth":1},"encoding":{"x2":{"field":"t2"},"y2":{"field":"v2"}}},
{"data":{"name":"traces"},"transform":[{"filter":"datum.p==='C'"}],"mark":{"type":"line","strokeWidth":3,"strokeJoin":"round"},"encoding":{"detail":{"field":"g","type":"nominal"}}},
{"data":{"name":"brackets"},"transform":[{"filter":"datum.p==='C'"}],"mark":{"type":"line","strokeWidth":1.5},"encoding":{"order":{"field":"o","type":"quantitative"}}},
{"data":{"name":"arrows"},"transform":[{"filter":"datum.p==='C'"}],"mark":{"type":"rule","strokeWidth":1.5},"encoding":{"x2":{"field":"t2"},"y2":{"field":"v2"}}},
{"data":{"name":"arrows"},"transform":[{"filter":"datum.p==='C' && datum.id==='up'"}],"mark":{"type":"point","shape":"M0,0L-0.42,1.1L0.42,1.1Z","filled":true,"size":196,"opacity":1,"strokeWidth":0}},
{"data":{"name":"arrows"},"transform":[{"filter":"datum.p==='C' && datum.id==='p1'"}],"mark":{"type":"point","shape":"M0,0L-0.42,1.1L0.42,1.1Z","filled":true,"size":170,"opacity":1,"strokeWidth":0,"angle":133.2}},
{"data":{"name":"arrows"},"transform":[{"filter":"datum.p==='C' && datum.id==='p2'"}],"mark":{"type":"point","shape":"M0,0L-0.42,1.1L0.42,1.1Z","filled":true,"size":170,"opacity":1,"strokeWidth":0,"angle":232.1}},
{"data":{"name":"labels"},"transform":[{"filter":"datum.p==='C' && datum.r==='letter'"}],"mark":{"type":"text","font":"Lato","fontSize":27,"fontWeight":"bold"},"encoding":{"text":{"field":"text","type":"nominal"}}},
{"data":{"name":"labels"},"transform":[{"filter":"datum.p==='C' && datum.r==='min'"}],"mark":{"type":"text","font":"Liberation Sans","fontSize":9.5,"fontWeight":"bold"},"encoding":{"text":{"field":"text","type":"nominal"}}},
{"data":{"name":"labels"},"transform":[{"filter":"datum.p==='C' && datum.r==='legend'"}],"mark":{"type":"text","font":"Liberation Sans","fontSize":13,"align":"left"},"encoding":{"text":{"field":"text","type":"nominal"}}},
{"data":{"name":"labels"},"transform":[{"filter":"datum.p==='C' && datum.r==='num'"}],"mark":{"type":"text","font":"Liberation Sans","fontSize":13},"encoding":{"text":{"field":"text","type":"nominal"}}},
{"data":{"name":"labels"},"transform":[{"filter":"datum.p==='C' && datum.r==='stim'"}],"mark":{"type":"text","font":"Liberation Sans Narrow, Liberation Sans","fontSize":10,"fontWeight":"bold"},"encoding":{"text":{"field":"text","type":"nominal"}}},
{"data":{"name":"labels"},"transform":[{"filter":"datum.p==='C' && datum.r==='cap'"}],"mark":{"type":"text","font":"Lato","fontSize":27,"align":"left"},"encoding":{"text":{"field":"text","type":"nominal"}}}
]
},
{
"encoding":{
"x":{"field":"t","type":"quantitative","scale":{"domain":[0,1137],"range":[0,1023],"nice":false,"zero":false},"axis":null},
"y":{"field":"v","type":"quantitative","scale":{"type":"log","domain":[96,520],"range":[964,575],"nice":false},"axis":{"orient":"left","offset":-42,"values":[96,150,225,335,520],"format":"d","labelOverlap":false,"labelFlush":false,"grid":false,"domainColor":"#111","domainWidth":2,"tickColor":"#111","tickWidth":2,"tickSize":-21,"labelPadding":30,"labelFont":"Lato","labelFontSize":19,"labelFontWeight":"bold","labelColor":"#111","title":["Ca²⁺","nM"],"titleAngle":0,"titleAlign":"center","titleBaseline":"top","titleX":12,"titleY":516,"titleFont":"Lato","titleFontSize":19,"titleFontWeight":"bold","titleLineHeight":22,"titleColor":"#111"}},
"color":{"field":"k","type":"nominal","scale":{"domain":["recording","stimulus","marker","box","scale","note"],"range":["#3c3cee","#000000","#2a2ac2","#333333","#111111","#111111"]},"legend":null}
},
"layer":[
{"data":{"name":"frames"},"transform":[{"filter":"datum.p==='Bot'"}],"mark":{"type":"rect","filled":false,"strokeWidth":1.5},"encoding":{"x2":{"field":"t2"},"y2":{"field":"v2"}}},
{"data":{"name":"traces"},"transform":[{"filter":"datum.p==='Bot'"}],"mark":{"type":"line","strokeWidth":2,"strokeJoin":"round"},"encoding":{"detail":{"field":"g","type":"nominal"}}},
{"data":{"name":"brackets"},"transform":[{"filter":"datum.p==='Bot'"}],"mark":{"type":"line","strokeWidth":2},"encoding":{"order":{"field":"o","type":"quantitative"}}},
{"data":{"name":"arrows"},"transform":[{"filter":"datum.p==='Bot' && datum.id==='up'"}],"mark":{"type":"rule","strokeWidth":4},"encoding":{"x2":{"field":"t2"},"y2":{"field":"v2"}}},
{"data":{"name":"arrows"},"transform":[{"filter":"datum.p==='Bot' && datum.id==='up'"}],"mark":{"type":"point","shape":"M0,0L-0.5,0.95L0.5,0.95Z","filled":true,"size":700,"opacity":1,"strokeWidth":0}},
{"data":{"name":"arrows"},"transform":[{"filter":"datum.p==='Bot' && datum.id!=='up'"}],"mark":{"type":"rule","strokeWidth":2},"encoding":{"x2":{"field":"t2"},"y2":{"field":"v2"}}},
{"data":{"name":"arrows"},"transform":[{"filter":"datum.p==='Bot' && datum.id==='dn'"}],"mark":{"type":"point","shape":"M-0.5,0.8L0,0L0.5,0.8","filled":false,"size":520,"opacity":1,"strokeWidth":2,"angle":180}},
{"data":{"name":"arrows"},"transform":[{"filter":"datum.p==='Bot' && datum.id==='ctrl'"}],"mark":{"type":"point","shape":"M-0.5,0.8L0,0L0.5,0.8","filled":false,"size":520,"opacity":1,"strokeWidth":2,"angle":213.7}},
{"data":{"name":"labels"},"transform":[{"filter":"datum.p==='Bot' && datum.r==='min'"}],"mark":{"type":"text","font":"Lato","fontSize":17,"fontWeight":"bold"},"encoding":{"text":{"field":"text","type":"nominal"}}},
{"data":{"name":"labels"},"transform":[{"filter":"datum.p==='Bot' && datum.r==='letter'"}],"mark":{"type":"text","font":"Lato","fontSize":30,"fontWeight":"bold"},"encoding":{"text":{"field":"text","type":"nominal"}}},
{"data":{"name":"labels"},"transform":[{"filter":"datum.p==='Bot' && datum.r==='ctrl'"}],"mark":{"type":"text","font":"Lato","fontSize":21,"fontWeight":"bold"},"encoding":{"text":{"field":"text","type":"nominal"}}},
{"data":{"name":"labels"},"transform":[{"filter":"datum.p==='Bot' && datum.r==='stim'"}],"mark":{"type":"text","font":"Lato","fontSize":18.5,"fontWeight":"bold"},"encoding":{"text":{"field":"text","type":"nominal"}}},
{"data":{"name":"labels"},"transform":[{"filter":"datum.p==='Bot' && datum.r==='gtitle'"}],"mark":{"type":"text","font":"Lato","fontSize":32,"fontWeight":"bold"},"encoding":{"text":{"field":"text","type":"nominal"}}},
{"data":{"name":"labels"},"transform":[{"filter":"datum.p==='Bot' && datum.r==='gsub'"}],"mark":{"type":"text","font":"Lato","fontSize":18,"fontWeight":"bold","align":"left"},"encoding":{"text":{"field":"text","type":"nominal"}}}
]
},
{
"data":{"name":"gbars"},
"encoding":{
"x":{"field":"group","type":"nominal","sort":null,"scale":{"domain":["Control","SDF-1","hBD-3 20","hBD-3 10","6-45 15","6-45 7.5","6-45 3.75"],"range":[463,957],"paddingInner":0.62,"paddingOuter":0.31},"axis":{"orient":"bottom","offset":-291,"title":null,"labelAngle":0,"labelFont":"Lato","labelFontSize":11,"labelFontWeight":"bold","labelColor":"#404040","labelPadding":7,"domainColor":"#a6a6a6","domainWidth":1.5,"tickColor":"#a6a6a6","tickSize":5,"tickBand":"extent","grid":false}},
"y":{"field":"pct","type":"quantitative","scale":{"domain":[0,120],"range":[759,462],"nice":false,"zero":false},"axis":{"orient":"left","offset":-463,"values":[0,20,40,60,80,100,120],"grid":true,"gridColor":"#d6d6d6","gridWidth":1.5,"domainColor":"#a6a6a6","domainWidth":1.5,"tickColor":"#a6a6a6","tickSize":5,"labelPadding":4,"labelFont":"Lato","labelFontSize":11.5,"labelFontWeight":"bold","labelColor":"#404040","title":"Percent of control (%)","titleFont":"Lato","titleFontSize":12,"titleFontWeight":"bold","titleColor":"#111","titlePadding":7}}
},
"layer":[
{"mark":{"type":"bar","color":"#000000"}},
{"mark":{"type":"rule","color":"#404040","strokeWidth":1},"encoding":{"y2":{"field":"upper"}}},
{"mark":{"type":"tick","color":"#404040","thickness":1,"size":9},"encoding":{"y":{"field":"upper","type":"quantitative","scale":{"domain":[0,120],"range":[759,462],"nice":false,"zero":false},"axis":{"orient":"left","offset":-463,"values":[0,20,40,60,80,100,120],"grid":true,"gridColor":"#d6d6d6","gridWidth":1.5,"domainColor":"#a6a6a6","domainWidth":1.5,"tickColor":"#a6a6a6","tickSize":5,"labelPadding":4,"labelFont":"Lato","labelFontSize":11.5,"labelFontWeight":"bold","labelColor":"#404040","title":"Percent of control (%)","titleFont":"Lato","titleFontSize":12,"titleFontWeight":"bold","titleColor":"#111","titlePadding":7}}}}
]
}
],
"resolve":{"scale":{"x":"independent","y":"independent","color":"independent"},"axis":{"x":"independent","y":"independent"}}
}
